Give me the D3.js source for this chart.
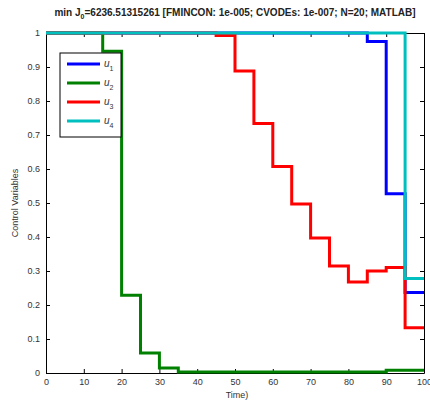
<!DOCTYPE html>
<html>
<head>
<meta charset="utf-8">
<script src="https://cdn.jsdelivr.net/npm/d3@7"></script>
<style>
  body { margin: 0; background: #fff; }
  text { font-family: "Liberation Sans", Arial, sans-serif; }
</style>
</head>
<body>
<div class="myViz"></div>
<script>
// start of each control interval (N=20)
var timeStart = [0, 5, 10, 15, 20, 25, 30, 35, 40, 45, 50, 55, 60, 65, 70, 75, 80, 85, 90, 95];
var u1 = [1, 1, 1, 1, 1, 1, 1, 1, 1, 1, 1, 1, 1, 1, 1, 1, 1, 0.975, 0.527, 0.237];
var u2 = [1, 1, 1, 0.946, 0.229, 0.059, 0.015, 0.003, 0.003, 0.003, 0.003, 0.003, 0.003, 0.003, 0.003, 0.003, 0.003, 0.003, 0.008, 0.008];
var u3 = [1, 1, 1, 1, 1, 1, 1, 1, 1, 0.993, 0.888, 0.734, 0.607, 0.497, 0.397, 0.315, 0.268, 0.300, 0.310, 0.133];
var u4 = [1, 1, 1, 1, 1, 1, 1, 1, 1, 1, 1, 1, 1, 1, 1, 1, 1, 1, 1, 0.278];
var tEnd = 100;
var xTicks = [0, 10, 20, 30, 40, 50, 60, 70, 80, 90, 100];
var yTicks = [0, 0.1, 0.2, 0.3, 0.4, 0.5, 0.6, 0.7, 0.8, 0.9, 1];

var series = [
  {name: "u", sub: "1", values: u1, color: "#0000ff"},
  {name: "u", sub: "2", values: u2, color: "#008000"},
  {name: "u", sub: "3", values: u3, color: "#ff0000"},
  {name: "u", sub: "4", values: u4, color: "#00bfbf"}
];

var margin = {top: 33, right: 6, bottom: 29, left: 46},
    width = 430 - margin.left - margin.right,
    height = 402 - margin.top - margin.bottom;

var svg = d3.select(".myViz")
  .append("svg")
  .attr("width", 430)
  .attr("height", 402);

var chartGroup = svg.append("g")
  .attr("transform", `translate(${margin.left}, ${margin.top})`);

var x = d3.scaleLinear().domain([0, 100]).range([0, width]);
var y = d3.scaleLinear().domain([0, 1]).range([height, 0]);

// axes with inward ticks on all four sides
function styleAxis(g) {
  g.select(".domain").attr("stroke", "#000");
  g.selectAll(".tick line").attr("stroke", "#000");
  g.selectAll(".tick text").attr("fill", "#333").style("font-size", "9px");
}

chartGroup.append("g")
  .attr("transform", "translate(0," + height + ")")
  .call(d3.axisBottom(x).tickValues(xTicks).tickSize(-4).tickSizeOuter(0).tickPadding(6).tickFormat(d3.format("d")))
  .call(styleAxis);

chartGroup.append("g")
  .call(d3.axisLeft(y).tickValues(yTicks).tickSize(-4).tickSizeOuter(0).tickPadding(6).tickFormat(d => d === 0 || d === 1 ? d : d3.format(".1f")(d)))
  .call(styleAxis);

chartGroup.append("g")
  .call(d3.axisTop(x).tickValues(xTicks).tickSize(-4).tickSizeOuter(0).tickFormat(""))
  .call(styleAxis);

chartGroup.append("g")
  .attr("transform", "translate(" + width + ",0)")
  .call(d3.axisRight(y).tickValues(yTicks).tickSize(-4).tickSizeOuter(0).tickFormat(""))
  .call(styleAxis);

// stairs lines
var line = d3.line()
  .x(d => x(d.t))
  .y(d => y(d.v))
  .curve(d3.curveStepAfter);

series.forEach(function(s) {
  var pts = timeStart.map((t, i) => ({t: t, v: s.values[i]}));
  pts.push({t: tEnd, v: s.values[s.values.length - 1]});
  chartGroup.append("path")
    .datum(pts)
    .attr("d", line)
    .attr("fill", "none")
    .attr("stroke", s.color)
    .attr("stroke-width", 3);
});

// legend
var legend = chartGroup.append("g")
  .attr("transform", "translate(14, 20)");

legend.append("rect")
  .attr("width", 61)
  .attr("height", 84)
  .attr("fill", "#fff")
  .attr("stroke", "#000")
  .attr("stroke-width", 1);

series.forEach(function(s, i) {
  var yy = 11 + i * 19;
  legend.append("line")
    .attr("x1", 7).attr("x2", 40)
    .attr("y1", yy).attr("y2", yy)
    .attr("stroke", s.color)
    .attr("stroke-width", 3);
  var t = legend.append("text")
    .attr("x", 44)
    .attr("y", yy + 3)
    .style("font-size", "10px")
    .style("font-style", "italic")
    .attr("fill", "#333");
  t.append("tspan").text(s.name);
  t.append("tspan").attr("dy", 4).style("font-size", "7px").style("font-style", "normal").text(s.sub);
});

// title
var title = svg.append("text")
  .attr("x", margin.left + width / 2)
  .attr("y", 16)
  .attr("text-anchor", "middle")
  .style("font-size", "10px")
  .style("font-weight", "bold")
  .attr("fill", "#222");
title.append("tspan").text("min J");
title.append("tspan").attr("dy", 3).style("font-size", "7px").text("0");
title.append("tspan").attr("dy", -3).text("=6236.51315261 [FMINCON: 1e-005; CVODEs: 1e-007; N=20; MATLAB]");

// axis labels
svg.append("text")
  .attr("x", margin.left + width / 2 + 2)
  .attr("y", 398)
  .attr("text-anchor", "middle")
  .style("font-size", "9px")
  .attr("fill", "#333")
  .text("Time)");

svg.append("text")
  .attr("transform", "translate(18," + (margin.top + height / 2) + ") rotate(-90)")
  .attr("text-anchor", "middle")
  .style("font-size", "9px")
  .attr("fill", "#333")
  .text("Control Variables");
</script>
</body>
</html>
